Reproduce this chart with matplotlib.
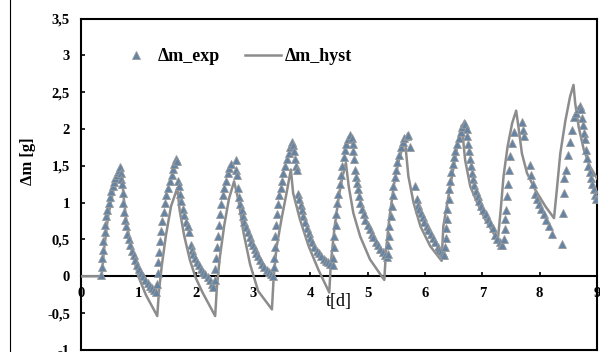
import matplotlib
matplotlib.use('Agg')
import matplotlib.pyplot as plt
from matplotlib.lines import Line2D

# measured mass change (triangles), per cycle: rise then decay
t_exp = [0.35, 0.36, 0.37, 0.38, 0.39, 0.41, 0.42, 0.44, 0.46, 0.48, 0.50, 0.52, 0.55, 0.57, 0.60, 0.62, 0.64, 0.66, 0.68, 0.69, 0.70, 0.71,
         0.73, 0.74, 0.75, 0.77, 0.79, 0.81, 0.83, 0.86, 0.89, 0.92, 0.95, 0.98, 1.01, 1.04, 1.08, 1.12, 1.16, 1.20, 1.24, 1.28, 1.31,
         1.33, 1.34, 1.35, 1.36, 1.38, 1.40, 1.42, 1.44, 1.47, 1.49, 1.52, 1.55, 1.58, 1.60, 1.63, 1.65, 1.67,
         1.69, 1.71, 1.73, 1.75, 1.78, 1.80, 1.83, 1.86, 1.88, 1.91, 1.93, 1.96, 1.99, 2.02, 2.05, 2.09, 2.13, 2.17, 2.21, 2.25, 2.28, 2.31,
         2.33, 2.34, 2.35, 2.37, 2.39, 2.41, 2.43, 2.45, 2.48, 2.50, 2.53, 2.56, 2.59, 2.62, 2.70, 2.71, 2.72,
         2.74, 2.76, 2.78, 2.80, 2.83, 2.85, 2.88, 2.91, 2.94, 2.97, 3.00, 3.03, 3.06, 3.09, 3.12, 3.16, 3.20, 3.24, 3.28, 3.32, 3.35,
         3.36, 3.37, 3.38, 3.39, 3.40, 3.42, 3.44, 3.46, 3.48, 3.51, 3.53, 3.56, 3.59, 3.62, 3.65, 3.68, 3.70, 3.72,
         3.74, 3.75, 3.76, 3.79, 3.81, 3.83, 3.85, 3.88, 3.91, 3.94, 3.97, 4.00, 4.03, 4.07, 4.11, 4.15, 4.19, 4.23, 4.27, 4.31, 4.35, 4.39,
         4.40, 4.41, 4.42, 4.44, 4.45, 4.47, 4.49, 4.51, 4.53, 4.55, 4.58, 4.61, 4.63, 4.66, 4.69, 4.72,
         4.75, 4.75, 4.76, 4.78, 4.80, 4.81, 4.83, 4.85, 4.87, 4.90, 4.93, 4.96, 5.00, 5.04, 5.07, 5.10, 5.14, 5.18, 5.22, 5.26, 5.30, 5.33,
         5.35, 5.36, 5.37, 5.38, 5.40, 5.42, 5.44, 5.45, 5.47, 5.49, 5.52, 5.55, 5.58, 5.61, 5.64, 5.68, 5.71, 5.74,
         5.83, 5.86, 5.88, 5.90, 5.93, 5.96, 5.99, 6.03, 6.06, 6.10, 6.14, 6.18, 6.22, 6.25, 6.28, 6.31, 6.33,
         6.35, 6.36, 6.37, 6.38, 6.39, 6.41, 6.42, 6.44, 6.46, 6.48, 6.51, 6.53, 6.56, 6.59, 6.62, 6.65, 6.68, 6.70,
         6.73, 6.74, 6.75, 6.76, 6.78, 6.80, 6.82, 6.84, 6.86, 6.89, 6.92, 6.95, 6.98, 7.02, 7.06, 7.10, 7.14, 7.18, 7.22, 7.26, 7.30, 7.33, 7.35,
         7.38, 7.39, 7.40, 7.41, 7.43, 7.44, 7.46, 7.48, 7.51, 7.55, 7.70, 7.71, 7.72,
         7.84, 7.85, 7.88, 7.91, 7.95, 7.99, 8.03, 8.07, 8.11, 8.17, 8.22, 8.39,
         8.41, 8.42, 8.42, 8.46, 8.50, 8.53, 8.56, 8.60, 8.64, 8.67, 8.70, 8.72,
         8.74, 8.76, 8.78, 8.79, 8.81, 8.83, 8.85, 8.87, 8.90, 8.92, 8.94, 8.97, 8.99]
m_exp = [0.02, 0.12, 0.25, 0.36, 0.48, 0.60, 0.70, 0.82, 0.90, 1.00, 1.08, 1.16, 1.22, 1.28, 1.34, 1.38, 1.42, 1.45, 1.48, 1.40, 1.32, 1.25,
         1.13, 1.00, 0.88, 0.77, 0.68, 0.58, 0.50, 0.42, 0.35, 0.29, 0.22, 0.15, 0.10, 0.05, 0.00, -0.05, -0.09, -0.13, -0.16, -0.19, -0.22,
         -0.10, 0.05, 0.20, 0.33, 0.48, 0.62, 0.75, 0.88, 1.00, 1.10, 1.20, 1.30, 1.38, 1.46, 1.53, 1.60, 1.56,
         1.30, 1.22, 1.12, 1.02, 0.92, 0.83, 0.74, 0.68, 0.60, 0.43, 0.36, 0.30, 0.25, 0.20, 0.15, 0.10, 0.06, 0.03, -0.01, -0.05, -0.10, -0.15,
         -0.05, 0.10, 0.25, 0.40, 0.55, 0.70, 0.85, 0.98, 1.10, 1.20, 1.30, 1.40, 1.47, 1.52, 1.58, 1.45, 1.38,
         1.20, 1.08, 0.98, 0.90, 0.82, 0.74, 0.67, 0.60, 0.53, 0.47, 0.42, 0.37, 0.32, 0.27, 0.22, 0.17, 0.13, 0.09, 0.06, 0.03, 0.01,
         0.12, 0.25, 0.40, 0.55, 0.70, 0.84, 0.98, 1.10, 1.20, 1.30, 1.40, 1.50, 1.60, 1.68, 1.75, 1.82, 1.78, 1.70,
         1.60, 1.50, 1.44, 1.12, 1.05, 0.97, 0.90, 0.82, 0.74, 0.66, 0.59, 0.52, 0.46, 0.40, 0.35, 0.31, 0.27, 0.24, 0.21, 0.19, 0.17, 0.16,
         0.25, 0.40, 0.55, 0.70, 0.85, 1.00, 1.12, 1.25, 1.38, 1.50, 1.62, 1.72, 1.80, 1.87, 1.92, 1.88,
         1.80, 1.70, 1.60, 1.45, 1.35, 1.27, 1.18, 1.09, 1.00, 0.92, 0.84, 0.77, 0.70, 0.64, 0.58, 0.53, 0.47, 0.42, 0.37, 0.33, 0.29, 0.26,
         0.30, 0.42, 0.55, 0.68, 0.82, 0.95, 1.10, 1.22, 1.35, 1.45, 1.55, 1.65, 1.75, 1.82, 1.88, 1.91, 1.92, 1.75,
         1.22, 1.05, 0.97, 0.92, 0.86, 0.80, 0.74, 0.68, 0.63, 0.57, 0.52, 0.46, 0.40, 0.36, 0.34, 0.31, 0.29,
         0.40, 0.52, 0.65, 0.78, 0.92, 1.05, 1.18, 1.30, 1.42, 1.52, 1.62, 1.70, 1.80, 1.88, 1.96, 2.03, 2.08, 2.07,
         2.00, 1.90, 1.80, 1.70, 1.60, 1.50, 1.40, 1.32, 1.24, 1.16, 1.09, 1.02, 0.96, 0.90, 0.84, 0.78, 0.72, 0.66, 0.56, 0.50, 0.46, 0.43, 0.42,
         0.50, 0.64, 0.78, 0.90, 1.09, 1.25, 1.45, 1.63, 1.81, 1.96, 2.10, 1.99, 1.90,
         1.51, 1.38, 1.25, 1.12, 1.05, 0.98, 0.91, 0.84, 0.76, 0.68, 0.58, 0.44,
         0.86, 1.13, 1.33, 1.45, 1.65, 1.83, 1.99, 2.17, 2.22, 2.27, 2.32, 2.27,
         2.15, 2.05, 1.95, 1.86, 1.72, 1.61, 1.50, 1.42, 1.33, 1.25, 1.18, 1.10, 1.05]

# hysteresis model curve
t_hyst = [0.00, 0.36, 0.40, 0.47, 0.56, 0.65, 0.71, 0.74, 0.80, 0.90, 1.00, 1.13, 1.33,
          1.36, 1.41, 1.48, 1.57, 1.68, 1.72, 1.80, 1.90, 2.00, 2.12, 2.34,
          2.37, 2.42, 2.50, 2.58, 2.67, 2.75, 2.83, 2.95, 3.09, 3.33,
          3.36, 3.41, 3.50, 3.59, 3.66, 3.70, 3.82, 3.97, 4.14, 4.33,
          4.36, 4.42, 4.50, 4.56, 4.62, 4.67, 4.75, 4.87, 5.04, 5.29,
          5.32, 5.38, 5.46, 5.55, 5.65, 5.71, 5.80, 5.92, 6.09, 6.29,
          6.32, 6.41, 6.50, 6.58, 6.64, 6.70, 6.79, 6.91, 7.05, 7.27,
          7.32, 7.37, 7.44, 7.52, 7.59, 7.63, 7.69, 7.78, 7.92, 8.10, 8.25,
          8.30, 8.36, 8.45, 8.53, 8.59, 8.62, 8.68, 8.77, 8.88, 9.00]
m_hyst = [0.00, 0.00, 0.35, 0.80, 1.15, 1.38, 1.48, 1.10, 0.70, 0.30, 0.00, -0.25, -0.54,
          -0.20, 0.15, 0.55, 0.95, 1.20, 0.90, 0.55, 0.22, -0.02, -0.22, -0.54,
          -0.15, 0.25, 0.70, 1.05, 1.29, 1.02, 0.61, 0.16, -0.20, -0.45,
          -0.02, 0.39, 0.79, 1.15, 1.45, 1.13, 0.77, 0.41, 0.09, -0.22,
          0.20, 0.65, 1.10, 1.35, 1.54, 1.22, 0.86, 0.54, 0.23, -0.05,
          0.35, 0.80, 1.25, 1.60, 1.85, 1.36, 1.00, 0.68, 0.41, 0.21,
          0.68, 1.09, 1.49, 1.85, 2.05, 1.58, 1.22, 1.00, 0.77, 0.49,
          0.90, 1.36, 1.76, 2.08, 2.25, 2.03, 1.67, 1.40, 1.18, 0.95, 0.79,
          1.18, 1.67, 2.12, 2.44, 2.60, 2.35, 2.03, 1.72, 1.49, 1.33]

x_ticks  = [0, 1, 2, 3, 4, 5, 6, 7, 8, 9]
y_ticks  = [-1, -0.5, 0, 0.5, 1, 1.5, 2, 2.5, 3, 3.5]
y_labels = ['-1', '-0,5', '0', '0,5', '1', '1,5', '2', '2,5', '3', '3,5']

serif = 'Liberation Serif'
plt.rcParams['font.family'] = serif

fig = plt.figure(figsize=(6.0, 3.52), dpi=100)
ax = fig.add_axes([0.135, 0.006, 0.86, 0.941])

line_col = '#8c8c8c'
tri = dict(ls='none', marker='^', ms=5.6, mfc='#6584a4', mec='#9a9a9a', mew=0.6)
ax.plot(t_hyst, m_hyst, color=line_col, lw=1.8, zorder=3)
ax.plot(t_exp, m_exp, zorder=4, **tri)

ax.set_xlim(0, 9)
ax.set_ylim(-1, 3.5)

# x axis through zero, box closed at the bottom
ax.spines['bottom'].set_position(('data', 0))
for s in ax.spines.values():
    s.set_linewidth(1.5)
ax.axhline(-1, color='black', lw=1.5, clip_on=False)

ax.set_xticks(x_ticks)
ax.set_yticks(y_ticks)
ax.set_yticklabels(y_labels)
ax.tick_params(axis='both', direction='in', length=3, width=1.2, labelsize=10.5)
ax.tick_params(axis='x', pad=8)
ax.tick_params(axis='y', pad=8)
for lab in ax.get_xticklabels() + ax.get_yticklabels():
    lab.set_fontweight('bold')

ax.set_ylabel('Δm [g]', fontsize=12, fontweight='bold')
ax.yaxis.set_label_coords(-0.088, 0.57)
ax.text(4.5, -0.34, 't[d]', fontsize=13, ha='center', va='center')

handles = [Line2D([], [], **tri), Line2D([], [], color=line_col, lw=1.8)]
ax.legend(handles, ['Δm_exp', 'Δm_hyst'], loc='center left', bbox_to_anchor=(0.04, 0.885),
          ncol=2, frameon=False, handlelength=2.0, handletextpad=0.2, columnspacing=1.4,
          numpoints=1, prop={'family': serif, 'weight': 'bold', 'size': 13})

# chart-area border on the left
fig.add_artist(Line2D([10 / 600, 10 / 600], [0, 1], transform=fig.transFigure, color='black', lw=0.8))

fig.savefig('out.png', dpi=100)
